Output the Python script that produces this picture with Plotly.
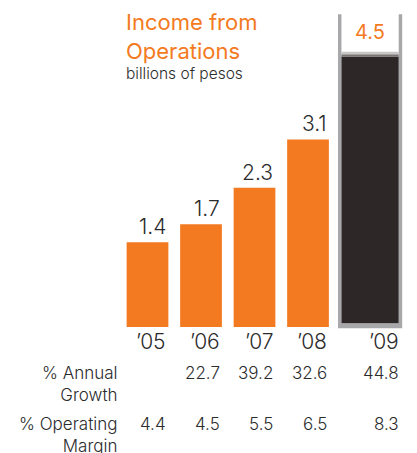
import plotly.graph_objects as go

# Income from operations, billions of pesos
years = ["\u201905", "\u201906", "\u201907", "\u201908", "\u201909"]
income = [1.4, 1.7, 2.3, 3.1, 4.5]
annual_growth = ["", "22.7", "39.2", "32.6", "44.8"]
operating_margin = ["4.4", "4.5", "5.5", "6.5", "8.3"]

ORANGE = "#f47a22"
TEXT = "#2b2b2b"
DARK = "#2e2728"
GREY = "#a8a8ab"
FONT = "Inter"

W, H = 417, 453
# bar slots: last year is set apart in its own "glass"
xpos = [0, 1, 2, 3, 4.16]
bar_w = 0.78
glass_w = 1.2
inner_w = 1.07
glass_top = 5.17

# axis ranges chosen so one category step is ~53.5 px and one unit ~60.5 px
x_range = [-2.757, 5.037]
y_range = [-2.083, 5.405]


def py(px):
    """pixel row from top -> paper y"""
    return 1 - px / H


def pxx(px):
    return px / W


fig = go.Figure()

# regular orange bars
fig.add_trace(go.Bar(
    x=xpos[:4], y=income[:4], width=bar_w,
    marker=dict(color=ORANGE, line=dict(width=0)),
    hoverinfo="skip",
))

# glass for the latest year: grey frame, white inside, dark fill
fig.add_trace(go.Bar(
    x=[xpos[4]], y=[glass_top + 0.02], base=[-0.02], width=glass_w,
    marker=dict(color=GREY, line=dict(width=0)), hoverinfo="skip",
))
fig.add_trace(go.Bar(
    x=[xpos[4]], y=[glass_top], base=[0.06], width=inner_w,
    marker=dict(color="white", line=dict(width=0)), hoverinfo="skip",
))
fig.add_trace(go.Bar(
    x=[xpos[4]], y=[income[4] - 0.03 - 0.06], base=[0.06], width=inner_w,
    marker=dict(color=DARK, line=dict(width=0)), hoverinfo="skip",
))
# soft foam edge on top of the fill
fig.add_trace(go.Bar(
    x=[xpos[4]], y=[0.04], base=[income[4] - 0.03], width=inner_w,
    marker=dict(color="#7a7475", line=dict(width=0)), hoverinfo="skip",
))
fig.add_trace(go.Bar(
    x=[xpos[4]], y=[0.04], base=[income[4] + 0.01], width=inner_w,
    marker=dict(color="#c9c6c6", line=dict(width=0)), hoverinfo="skip",
))

annotations = []

# value labels
for i in range(4):
    annotations.append(dict(
        x=xpos[i] + bar_w / 2, y=income[i], xref="x", yref="y",
        text=f"{income[i]:.1f}", showarrow=False,
        xanchor="right", yanchor="bottom", yshift=1,
        font=dict(family=FONT, size=21, color=TEXT, weight=300),
    ))
annotations.append(dict(
    x=xpos[4], y=glass_top, xref="x", yref="y",
    text=f"{income[4]:.1f}", showarrow=False,
    xanchor="center", yanchor="top", yshift=-4,
    font=dict(family=FONT, size=20, color=ORANGE, weight=400),
))

# year labels and table values, right-aligned to bar edges
for i in range(5):
    right = xpos[i] + (bar_w / 2 if i < 4 else glass_w / 2 - 0.02)
    annotations.append(dict(
        x=right, y=py(327), xref="x", yref="paper",
        text=years[i], showarrow=False, xanchor="right", yanchor="top",
        font=dict(family=FONT, size=21, color=TEXT, weight=300),
    ))
    if annual_growth[i]:
        annotations.append(dict(
            x=right, y=py(361), xref="x", yref="paper",
            text=annual_growth[i], showarrow=False, xanchor="right", yanchor="top",
            font=dict(family=FONT, size=17, color=TEXT, weight=300),
        ))
    annotations.append(dict(
        x=right, y=py(412), xref="x", yref="paper",
        text=operating_margin[i], showarrow=False, xanchor="right", yanchor="top",
        font=dict(family=FONT, size=17, color=TEXT, weight=300),
    ))

# row headers
annotations.append(dict(
    x=pxx(119), y=py(361), xref="paper", yref="paper",
    text="% Annual<br>Growth", showarrow=False, xanchor="right", yanchor="top",
    align="right", font=dict(family=FONT, size=17, color=TEXT, weight=300),
))
annotations.append(dict(
    x=pxx(119), y=py(412), xref="paper", yref="paper",
    text="% Operating<br>Margin", showarrow=False, xanchor="right", yanchor="top",
    align="right", font=dict(family=FONT, size=17, color=TEXT, weight=300),
))

# title block
annotations.append(dict(
    x=pxx(124), y=py(7), xref="paper", yref="paper",
    text="Income from<br>Operations", showarrow=False, xanchor="left", yanchor="top",
    align="left", font=dict(family=FONT, size=22, color=ORANGE, weight=400),
))
annotations.append(dict(
    x=pxx(124), y=py(62), xref="paper", yref="paper",
    text="billions of pesos", showarrow=False, xanchor="left", yanchor="top",
    align="left", font=dict(family=FONT, size=15.5, color=TEXT, weight=300),
))

fig.update_layout(
    width=W, height=H,
    margin=dict(l=0, r=0, t=0, b=0),
    paper_bgcolor="white", plot_bgcolor="white",
    barmode="overlay", showlegend=False,
    xaxis=dict(range=x_range, visible=False, fixedrange=True),
    yaxis=dict(range=y_range, visible=False, fixedrange=True),
    annotations=annotations,
)

fig.write_html("out.html")
